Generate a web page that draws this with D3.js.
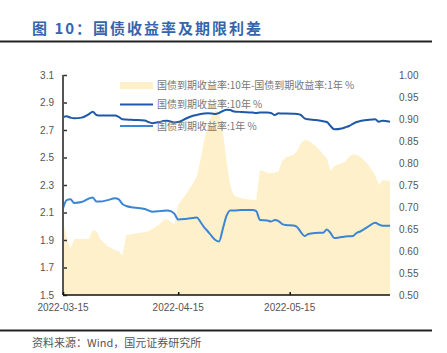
<!DOCTYPE html>
<html>
<head>
<meta charset="utf-8">
<script src="https://cdn.jsdelivr.net/npm/d3@7"></script>
<style>
	body { margin: 0; background: #fff; }
	svg { display: block; }
</style>
</head>
<body>
<div id="chart"></div>
<script>
const dates = [
	"2022-03-15", "2022-03-16", "2022-03-17", "2022-03-18", "2022-03-20", "2022-03-22", "2022-03-23",
	"2022-03-24", "2022-03-25", "2022-03-27", "2022-03-29", "2022-03-30", "2022-03-31", "2022-04-01",
	"2022-04-03", "2022-04-06", "2022-04-07", "2022-04-08", "2022-04-10", "2022-04-11", "2022-04-12",
	"2022-04-13", "2022-04-14", "2022-04-15", "2022-04-17", "2022-04-19", "2022-04-20", "2022-04-21",
	"2022-04-22", "2022-04-23", "2022-04-24", "2022-04-25", "2022-04-26", "2022-04-27", "2022-04-28",
	"2022-04-29", "2022-04-30", "2022-05-02", "2022-05-05", "2022-05-06", "2022-05-07", "2022-05-09",
	"2022-05-10", "2022-05-11", "2022-05-12", "2022-05-13", "2022-05-14", "2022-05-16", "2022-05-17",
	"2022-05-18", "2022-05-19", "2022-05-20", "2022-05-22", "2022-05-24", "2022-05-25", "2022-05-26",
	"2022-05-27", "2022-05-29", "2022-05-30", "2022-05-31", "2022-06-01", "2022-06-02", "2022-06-03",
	"2022-06-05", "2022-06-07", "2022-06-08", "2022-06-09", "2022-06-11"
];

// 国债到期收益率:10年 (left axis)
const yield10 = [
	2.795, 2.800, 2.790, 2.785, 2.790, 2.816, 2.833,
	2.809, 2.805, 2.805, 2.805, 2.795, 2.778, 2.776,
	2.773, 2.769, 2.758, 2.750, 2.758, 2.765, 2.768,
	2.762, 2.755, 2.758, 2.782, 2.804, 2.809, 2.816,
	2.820, 2.821, 2.820, 2.816, 2.824, 2.838, 2.848,
	2.845, 2.835, 2.831, 2.827, 2.824, 2.827, 2.827,
	2.824, 2.809, 2.821, 2.820, 2.820, 2.818, 2.816,
	2.809, 2.785, 2.778, 2.773, 2.763, 2.758, 2.729,
	2.705, 2.711, 2.720, 2.729, 2.744, 2.758, 2.765,
	2.773, 2.778, 2.760, 2.768, 2.760
];

// 国债到期收益率:1年 (left axis)
const yield1 = [
	2.130, 2.190, 2.196, 2.170, 2.176, 2.202, 2.210,
	2.180, 2.180, 2.190, 2.203, 2.195, 2.162, 2.147,
	2.136, 2.125, 2.115, 2.106, 2.110, 2.113, 2.115,
	2.110, 2.090, 2.049, 2.053, 2.060, 2.064, 2.031,
	1.991, 1.962, 1.929, 1.900, 1.889, 1.980, 2.075,
	2.115, 2.115, 2.118, 2.118, 2.110, 2.045, 2.042,
	2.035, 2.045, 2.038, 2.016, 2.009, 2.005, 1.995,
	1.958, 1.929, 1.944, 1.951, 1.953, 1.976, 1.951,
	1.915, 1.922, 1.925, 1.927, 1.929, 1.951, 1.962,
	1.995, 2.026, 2.013, 2.004, 2.004
];

// 国债到期收益率:10年-国债到期收益率:1年 (right axis)
const spread = [
	0.670, 0.630, 0.605, 0.627, 0.627, 0.627, 0.648,
	0.645, 0.627, 0.611, 0.602, 0.600, 0.590, 0.636,
	0.639, 0.643, 0.645, 0.650, 0.661, 0.670, 0.673,
	0.666, 0.661, 0.705, 0.727, 0.754, 0.770, 0.807,
	0.852, 0.886, 0.909, 0.919, 0.916, 0.873, 0.807,
	0.750, 0.726, 0.720, 0.716, 0.716, 0.784, 0.778,
	0.777, 0.778, 0.780, 0.805, 0.813, 0.818, 0.827,
	0.845, 0.852, 0.851, 0.839, 0.820, 0.811, 0.782,
	0.793, 0.800, 0.803, 0.814, 0.820, 0.818, 0.814,
	0.798, 0.773, 0.750, 0.761, 0.759
];

const leftTicks = [1.5, 1.7, 1.9, 2.1, 2.3, 2.5, 2.7, 2.9, 3.1];
const rightTicks = [0.50, 0.55, 0.60, 0.65, 0.70, 0.75, 0.80, 0.85, 0.90, 0.95, 1.00];
const xTicks = ["2022-03-15", "2022-04-15", "2022-05-15"];

const legendNames = [
	"国债到期收益率:10年-国债到期收益率:1年 %",
	"国债到期收益率:10年 %",
	"国债到期收益率:1年 %"
];

const parse = d3.timeParse("%Y-%m-%d");
const rows = dates.map((d, i) => ({date: parse(d), y10: yield10[i], y1: yield1[i], sp: spread[i]}));

const width = 447, height = 353;
const plot = {left: 63, right: 390, top: 75, bottom: 295};
const cjk = "'Noto Sans CJK SC', 'Liberation Sans', sans-serif";
const latin = "'Liberation Sans', Arial, sans-serif";

const svg = d3.select("#chart").append("svg")
	.attr("width", width)
	.attr("height", height);

// title + rules
svg.append("text")
	.attr("x", 32)
	.attr("y", 34)
	.style("font-family", cjk)
	.style("font-size", "15px")
	.style("font-weight", "bold")
	.style("letter-spacing", "2px")
	.style("fill", "#3565ac")
	.text("图 10：国债收益率及期限利差");

svg.append("line")
	.attr("x1", 0).attr("x2", 432)
	.attr("y1", 41.5).attr("y2", 41.5)
	.style("stroke", "#222")
	.style("stroke-width", 2);

svg.append("line")
	.attr("x1", 0).attr("x2", 432)
	.attr("y1", 330.5).attr("y2", 330.5)
	.style("stroke", "#222")
	.style("stroke-width", 2);

svg.append("text")
	.attr("x", 32)
	.attr("y", 347)
	.style("font-family", cjk)
	.style("font-size", "11px")
	.style("fill", "#555")
	.text("资料来源：Wind，国元证券研究所");

// scales
let x = d3.scaleTime()
	.domain([parse("2022-03-15"), parse("2022-06-11")])
	.range([plot.left, plot.right]);
let yL = d3.scaleLinear().domain([1.5, 3.1]).range([plot.bottom, plot.top]);
let yR = d3.scaleLinear().domain([0.5, 1.0]).range([plot.bottom, plot.top]);

const g = svg.append("g");

// spread area
let area = d3.area()
	.x(d => x(d.date))
	.y0(plot.bottom)
	.y1(d => yR(d.sp));

g.append("path")
	.datum(rows)
	.attr("d", area)
	.style("fill", "#fef0cb")
	.style("stroke", "none");

let line10 = d3.line().x(d => x(d.date)).y(d => yL(d.y10)).curve(d3.curveMonotoneX);
let line1 = d3.line().x(d => x(d.date)).y(d => yL(d.y1)).curve(d3.curveMonotoneX);

g.append("path")
	.datum(rows)
	.attr("d", line10)
	.style("fill", "none")
	.style("stroke", "#1f58a8")
	.style("stroke-width", "2px");

g.append("path")
	.datum(rows)
	.attr("d", line1)
	.style("fill", "none")
	.style("stroke", "#3a86d4")
	.style("stroke-width", "2px");

// left axis
let leftAxis = d3.axisRight(yL)
	.tickValues(leftTicks)
	.tickSize(4)
	.tickFormat(d3.format(".1f"));
let gl = svg.append("g")
	.attr("transform", "translate(" + plot.left + ",0)")
	.call(leftAxis);
gl.select(".domain").remove();
gl.selectAll(".tick text").remove();
gl.selectAll(".tick line").style("stroke", "#333").style("stroke-width", 1.5);
svg.append("line")
	.attr("x1", plot.left).attr("x2", plot.left)
	.attr("y1", plot.top).attr("y2", plot.bottom)
	.style("stroke", "#555")
	.style("stroke-width", 2);

svg.selectAll("text.ly")
	.data(leftTicks)
	.enter().append("text")
	.attr("class", "ly")
	.attr("x", 54)
	.attr("y", d => yL(d))
	.attr("dy", "0.35em")
	.attr("text-anchor", "end")
	.style("font-family", latin)
	.style("font-size", "10px")
	.style("fill", "#555")
	.text(d3.format(".1f"));

// right axis labels only
svg.selectAll("text.ry")
	.data(rightTicks)
	.enter().append("text")
	.attr("class", "ry")
	.attr("x", 399)
	.attr("y", d => yR(d))
	.attr("dy", "0.35em")
	.style("font-family", latin)
	.style("font-size", "10px")
	.style("fill", "#555")
	.text(d3.format(".2f"));

// bottom axis
let xAxis = d3.axisTop(x)
	.tickValues(xTicks.map(parse))
	.tickSize(3)
	.tickFormat("");
let gx = svg.append("g")
	.attr("transform", "translate(0," + plot.bottom + ")")
	.call(xAxis);
gx.select(".domain").remove();
gx.selectAll(".tick line").style("stroke", "#111").style("stroke-width", 1.5);
svg.append("line")
	.attr("x1", plot.left).attr("x2", plot.right)
	.attr("y1", plot.bottom).attr("y2", plot.bottom)
	.style("stroke", "#111")
	.style("stroke-width", 1.5);

svg.selectAll("text.xl")
	.data(xTicks)
	.enter().append("text")
	.attr("class", "xl")
	.attr("x", d => x(parse(d)))
	.attr("y", 311)
	.attr("text-anchor", "middle")
	.style("font-family", latin)
	.style("font-size", "10px")
	.style("fill", "#555")
	.text(d => d);

// legend
const legend = svg.append("g").attr("transform", "translate(120,0)");
const legendY = [85.5, 104.5, 126];

legend.append("rect")
	.attr("x", 0).attr("y", legendY[0] - 3.5)
	.attr("width", 33).attr("height", 7)
	.style("fill", "#fef0cb");
legend.append("line")
	.attr("x1", 0).attr("x2", 33)
	.attr("y1", legendY[1]).attr("y2", legendY[1])
	.style("stroke", "#1f58a8").style("stroke-width", 2);
legend.append("line")
	.attr("x1", 0).attr("x2", 33)
	.attr("y1", legendY[2]).attr("y2", legendY[2])
	.style("stroke", "#3a86d4").style("stroke-width", 2);

legend.selectAll("text")
	.data(legendNames)
	.enter().append("text")
	.attr("x", 37)
	.attr("y", (d, i) => legendY[i])
	.attr("dy", "0.35em")
	.style("font-family", cjk)
	.style("font-size", "10px")
	.style("fill", "#777")
	.text(d => d);
</script>
</body>
</html>
